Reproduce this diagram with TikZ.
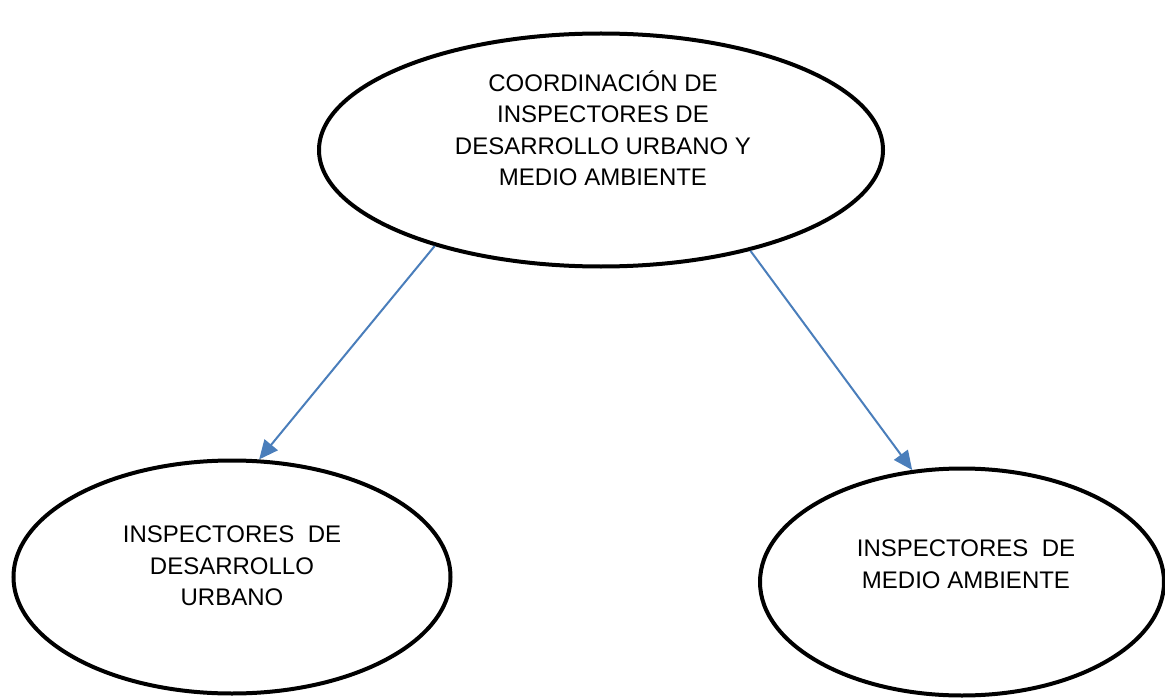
\documentclass[tikz,border=0pt]{standalone}
\usepackage{fontspec}
\setmainfont{Liberation Sans}
\usetikzlibrary{arrows.meta, shapes.geometric}
\definecolor{linkblue}{RGB}{74,126,187}

\begin{document}
\begin{tikzpicture} [x=1pt, y=-1pt, align=center, font=\fontsize{24pt}{31.5pt}\selectfont,
  oval/.style={ellipse, draw, line width=4pt},
  link/.style={-{Triangle[length=19pt,width=17pt]}, linkblue, line width=2pt}]
\useasboundingbox (0,0) rectangle (1165,698);
\path (601,150) node[oval, minimum width=564pt, minimum height=233pt] (e0) {}
(232,577) node[oval, minimum width=437pt, minimum height=233pt] (e1) {}
(962,582) node[oval, minimum width=404pt, minimum height=227pt] (e2) {}

(603,128) node (t0) {COORDINACIÓN DE\\INSPECTORES DE\\DESARROLLO URBANO Y\\MEDIO AMBIENTE}
(232,566) node (t1) {INSPECTORES\ \ DE\\DESARROLLO\\URBANO}
(966,564) node[text depth=0pt] (t2) {INSPECTORES\ \ DE\\MEDIO AMBIENTE};

\draw[link] (e0.210) to (e1.77.4);
\draw[link] (e0.326) to (e2.114);
\end{tikzpicture}
\end{document}
